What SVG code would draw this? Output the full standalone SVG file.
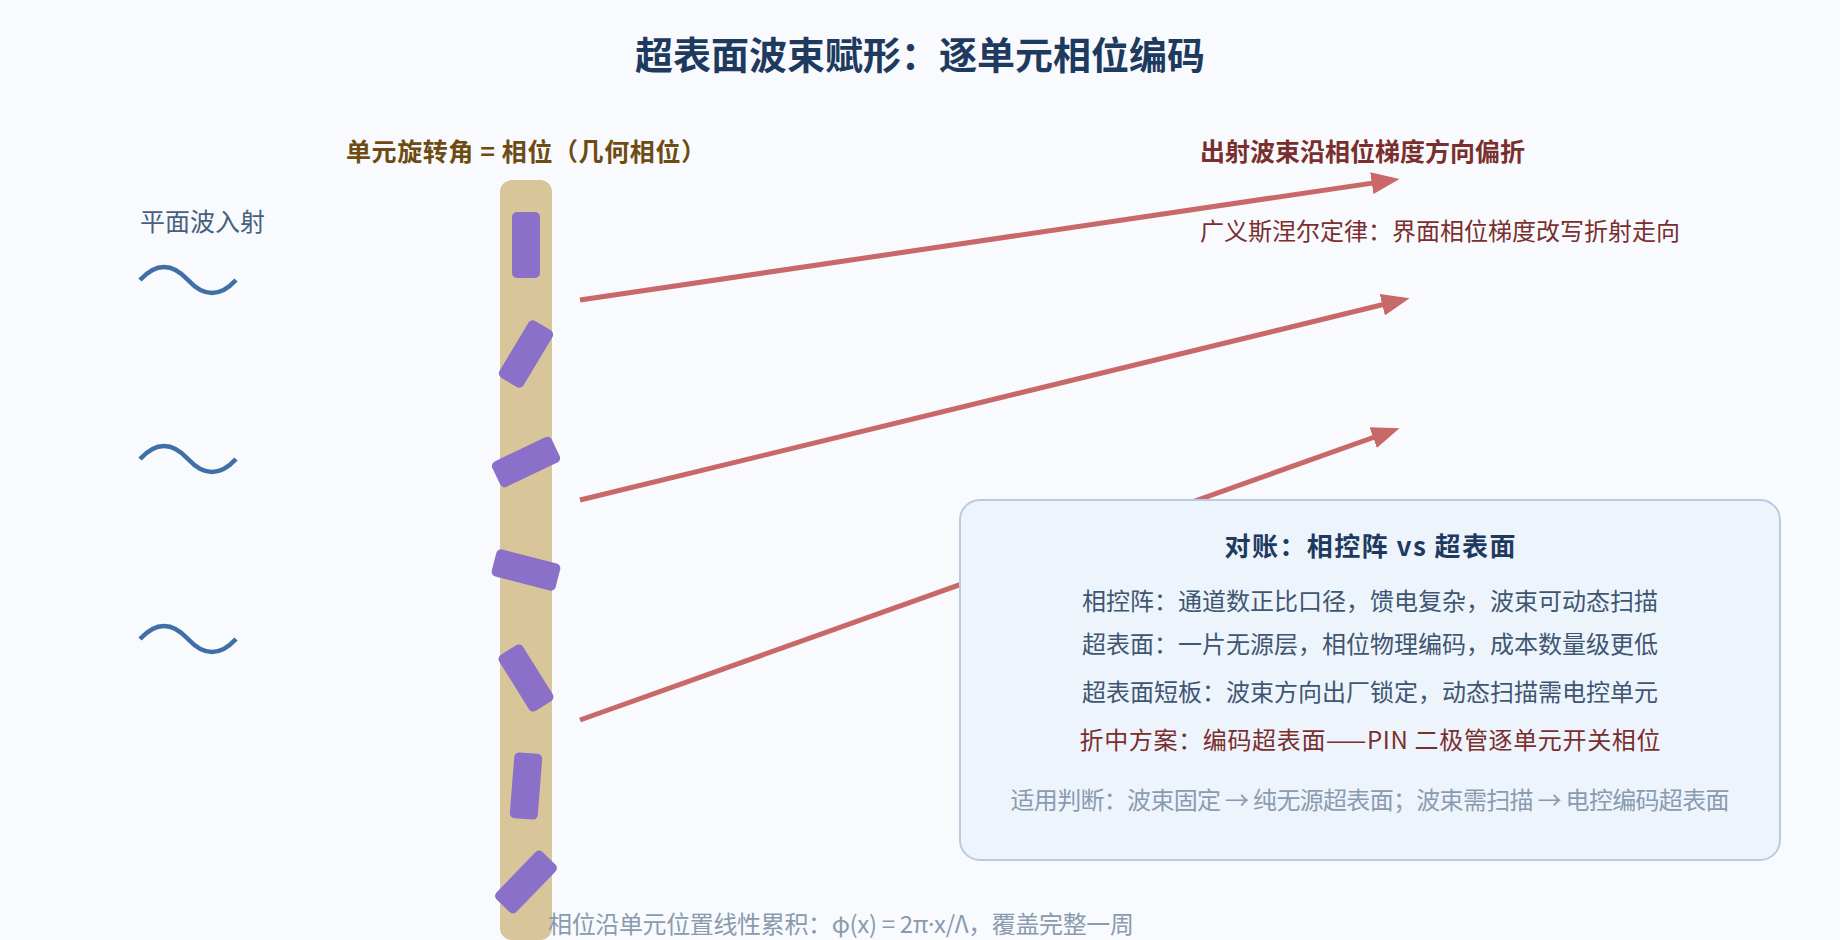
<svg xmlns="http://www.w3.org/2000/svg" width="1840" height="940" viewBox="0 0 1840 940">
<style>
text{font-family:"Noto Sans CJK SC","Noto Sans",sans-serif;}
.title{font-size:38px;font-weight:700;fill:#1e3a5f;}
.lblL{font-size:25px;font-weight:700;fill:#6e4b12;}
.lblR{font-size:25px;font-weight:700;fill:#7a2e2e;}
.law{font-size:24px;fill:#7a2e2e;}
.inc{font-size:25px;fill:#46607f;}
.wave{fill:none;stroke:#3f6fa6;stroke-width:4.5;}
.bar{fill:#d9c59a;}
.unit{fill:#8a70c8;}
.beam{fill:none;stroke:#c96868;stroke-width:5;}
.box{fill:#eef4fb;stroke:#b7cce0;stroke-width:2;}
.bt{font-size:26px;font-weight:700;fill:#1e3a5f;}
.bl{font-size:24px;fill:#3f5673;}
.bh{font-size:24px;fill:#7a2e2e;}
.bg{font-size:24px;fill:#8a9bb0;}
.note{font-size:24px;fill:#8a9bb0;}
.lat{font-family:"Noto Sans",sans-serif;}
</style>
<defs>
<marker id="ah" markerUnits="userSpaceOnUse" viewBox="0 0 28 22" markerWidth="28" markerHeight="22" refX="21" refY="11" orient="auto">
<path d="M0,0 L28,11 L0,22 z" fill="#c96868"/>
</marker>
</defs>
<rect width="1840" height="940" fill="#f8fafd"/>
<text id="title" class="title" x="920" y="69" text-anchor="middle">超表面波束赋形：逐单元相位编码</text>

<g id="incident">
<text class="inc" x="140" y="231">平面波入射</text>
<path class="wave" d="M140,280 q24,-26 48,0 t48,0"/>
<path class="wave" d="M140,459 q24,-26 48,0 t48,0"/>
<path class="wave" d="M140,639 q24,-26 48,0 t48,0"/>
</g>

<g id="connectors">
<line class="beam" x1="580" y1="300" x2="1392.6" y2="180.1" marker-end="url(#ah)"/>
<line class="beam" x1="580" y1="500" x2="1402.7" y2="299.8" marker-end="url(#ah)"/>
<line class="beam" x1="580" y1="720" x2="1392.9" y2="430.5" marker-end="url(#ah)"/>
</g>

<g id="metasurface">
<text class="lblL" x="526" y="161" text-anchor="middle" textLength="360" lengthAdjust="spacing">单元旋转角 = 相位（几何相位）</text>
<rect class="bar" x="500" y="180" width="52" height="760" rx="12"/>
<rect class="unit" x="512" y="212" width="28" height="66" rx="5" transform="rotate(0 526 245)"/>
<rect class="unit" x="512" y="321" width="28" height="66" rx="5" transform="rotate(31 526 354)"/>
<rect class="unit" x="512" y="429" width="28" height="66" rx="5" transform="rotate(64.5 526 462)"/>
<rect class="unit" x="512" y="537" width="28" height="66" rx="5" transform="rotate(104.5 526 570)"/>
<rect class="unit" x="512" y="645" width="28" height="66" rx="5" transform="rotate(148 526 678)"/>
<rect class="unit" x="512" y="753" width="28" height="66" rx="5" transform="rotate(184.5 526 786)"/>
<rect class="unit" x="512" y="849" width="28" height="66" rx="5" transform="rotate(224 526 882)"/>
</g>

<g id="outgoing">
<text class="lblR" x="1200" y="161">出射波束沿相位梯度方向偏折</text>
<text class="law" x="1200" y="240">广义斯涅尔定律：界面相位梯度改写折射走向</text>
</g>

<g id="compare">
<rect class="box" x="960" y="500" width="820" height="360" rx="20"/>
<text class="bt" x="1370" y="556" text-anchor="middle" textLength="291" lengthAdjust="spacing">对账：相控阵 vs 超表面</text>
<text class="bl" x="1370" y="610" text-anchor="middle">相控阵：通道数正比口径，馈电复杂，波束可动态扫描</text>
<text class="bl" x="1370" y="653" text-anchor="middle">超表面：一片无源层，相位物理编码，成本数量级更低</text>
<text class="bl" x="1370" y="701" text-anchor="middle">超表面短板：波束方向出厂锁定，动态扫描需电控单元</text>
<text class="bh" x="1370" y="749" text-anchor="middle" textLength="581" lengthAdjust="spacing">折中方案：编码超表面——PIN 二极管逐单元开关相位</text>
<text class="bg" x="1370" y="809" text-anchor="middle" textLength="719" lengthAdjust="spacing">适用判断：波束固定 → 纯无源超表面；波束需扫描 → 电控编码超表面</text>
</g>

<text id="note" class="note" x="548" y="933" textLength="586" lengthAdjust="spacing">相位沿单元位置线性累积：φ(x) = 2π<tspan class="lat">·</tspan>x/Λ，覆盖完整一周</text>
</svg>
